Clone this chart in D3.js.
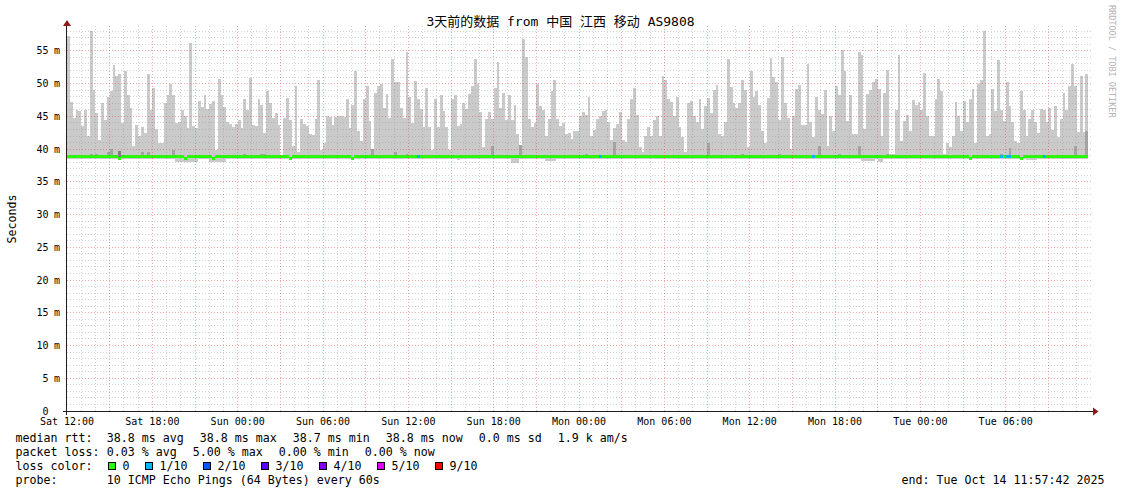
<!DOCTYPE html>
<html><head><meta charset="utf-8">
<script src="https://cdn.jsdelivr.net/npm/d3@7"></script>
<style>
html,body{margin:0;padding:0;background:#fff;}
svg{display:block;}
text{font-family:"DejaVu Sans Mono","Noto Sans CJK SC",monospace;fill:#000;}
</style>
</head><body>
<svg id="c" width="1121" height="494"></svg>
<script>
// ---------------- data ----------------
const title = "3天前的数据 from 中国 江西 移动 AS9808";
const yLabel = "Seconds";
const watermark = "RRDTOOL / TOBI OETIKER";
const yTickValues = [0, 5, 10, 15, 20, 25, 30, 35, 40, 45, 50, 55];
const xTickLabels = ["Sat 12:00","Sat 18:00","Sun 00:00","Sun 06:00","Sun 12:00","Sun 18:00",
                     "Mon 00:00","Mon 06:00","Mon 12:00","Mon 18:00","Tue 00:00","Tue 06:00"];
// top of smoke (max ping, ms) per 12-minute step, from Sat 12:00
const maxSat = [57.3,47.2,44.8,46.0,45.8,43.6,46.0,42.0,58.0,49.1,
45.5,41.4,47.1,44.5,48.0,48.8,52.8,51.1,51.4,44.0,
51.9,48.3,46.3,40.5,43.7,42.0,43.3,42.4,51.4,45.9,
49.4,43.1,41.0,40.9,47.1,48.2,50.0,48.3,44.0,44.2,
46.0,45.1,43.2,56.2,43.6,43.2,47.4,46.5,48.3,46.1,
46.9,47.4,39.8,50.7,48.2,46.5,44.2,43.8,43.4,43.8,
44.5,43.2,47.6,45.9,50.8,43.7,43.5,47.6,46.8,42.5,
48.8,47.0,44.7,45.5,43.7,39.1,44.7,47.8,44.5,40.4,
49.6,39.6,44.6,43.9,43.5,42.3,42.2,44.6,50.5,39.8,
41.0,45.0,44.9,43.7,44.9,45.1,45.0,44.9,47.6,43.2,
46.8,52.0,42.7,41.3,47.6,49.7,44.3,39.4,48.5,49.7,
49.9,46.3,48.4,44.8,53.7,50.3,50.3];
const maxSun = [46.3,44.8,54.8,48.0,44.0,50.4,47.7,46.2,43.4,49.3,
43.4,39.9,47.7,43.4,48.2,45.8,43.4,39.9,47.7,48.3,
43.5,43.9,47.1,46.2,48.4,49.6,53.7,49.9,45.6,40.3,
44.6,45.6,44.6,49.3,53.3,46.3,48.6,44.4,48.2,44.5,
46.8,42.3,40.2,56.8,54.0,44.6,43.4,44.0,50.0,46.6,
46.0,42.0,44.6,48.9,50.5,44.6,43.5,44.0,42.3,42.5,
41.5,42.8,42.7,45.0,45.7,45.2,48.0,42.0,42.9,44.6,
45.1,45.8,45.9,44.1,41.4,43.2,43.9,45.6,41.4,41.1,
44.6,47.7,49.4,45.2,40.3,39.5,42.0,43.4,42.0,44.4,
45.0,42.0,51.2,50.5,47.6,47.2,45.1,48.0,43.4,41.8,
39.5,47.0,47.3,45.1,44.1,47.6,43.0,46.6,47.8,45.5,
49.0,49.8,42.3,42.0,44.2,53.8,49.5,47.0,46.3,47.0];
const maxMon = [50.6,49.0,40.3,51.9,48.0,48.8,46.8,42.7,40.9,47.8,
53.9,51.0,50.2,44.5,54.0,47.0,44.8,40.0,45.1,49.2,
49.8,43.7,43.7,53.0,44.1,41.9,48.0,46.0,45.4,49.1,
40.5,45.0,42.7,49.7,48.3,55.1,51.9,44.3,48.3,42.3,
42.3,54.8,54.4,43.1,48.4,49.0,50.2,50.7,49.2,42.0,
48.5,52.1,39.3,39.3,46.0,54.4,41.3,44.3,45.2,42.8,
47.5,46.8,47.2,46.0,51.6,45.0,42.0,42.0,47.7,50.7,
48.9,39.3,41.0,40.3,42.0,47.2,45.0,42.8,47.4,44.2,
47.7,49.2,41.0,49.9,50.5,58.1,42.0,42.3,49.2,45.8,
53.6,45.9,44.3,50.2,46.6,44.2,41.2,40.9,48.9,46.0,
42.0,44.6,46.0,44.2,42.4,46.1,46.0,44.1,46.3,42.9,
46.6,41.9,44.6,48.5,45.9,49.7,53.0,49.7,42.6,51.1,
42.6,51.4];
const smokeMax = maxSat.concat(maxSun, maxMon);
const smokeFloor = 38.5;          // lowest ping in most steps
// steps whose lowest ping dips further: [fromStep, toStep, ms]
const smokeDips = [[38,45,38.1],[50,55,38.1],[137,137,38.3],[156,158,37.9],[168,171,38.2],
                   [279,283,38.2],[285,286,38.1],[337,340,38.3]];
// second-highest ping where it shows above the median: [step, ms, shade]
const innerSmoke = [[8,39.3,1],[10,39.3,1],[14,39.5,1],[15,40.0,1],[18,39.7,2],[26,39.5,1],[28,39.6,1],
  [37,39.9,1],[62,39.3,1],[68,39.3,1],[69,39.3,1],[107,40.0,1],[115,39.5,1],[119,39.3,1],
  [149,40.4,1],[159,40.6,1],[182,39.3,1],[192,41.1,1],[225,41.0,1],[237,39.2,1],[250,39.2,1],
  [264,40.4,1],[271,39.3,1],[278,40.5,1],[288,39.3,1],[328,39.3,1],[331,40.2,1],[354,40.5,1],[358,42.7,1]];
const medianBase = 38.8;
const medianDips = [[18,38.6],[41,38.6],[51,38.6],[78,38.6],[100,38.6],[317,38.6],[335,38.6]];
const lossSteps = [[123,1],[187,1],[262,1],[328,1],[330,1],[331,1],[343,1]];
const lossLegend = ["0","1/10","2/10","3/10","4/10","5/10","9/10"];
const lossColors = ["#26ff00","#00b8ff","#0059ff","#5e00ff","#7e00ff","#dd00ff","#ff0000"];
const legendRows = [
  ["median rtt:", ["38.8 ms avg","38.8 ms max","38.7 ms min","38.8 ms now","0.0 ms sd","1.9 k am/s"]],
  ["packet loss:", ["0.03 % avg","5.00 % max","0.00 % min","0.00 % now"]],
  ["loss color:", null],
  ["probe:", ["10 ICMP Echo Pings (64 Bytes) every 60s"]]
];
const endText = "end: Tue Oct 14 11:57:42 2025";

// ---------------- chart ----------------
const svg = d3.select("#c");
const start = new Date(2025, 9, 11, 11, 57, 42);
const end = new Date(2025, 9, 14, 11, 57, 42);
const firstStep = new Date(2025, 9, 11, 12, 0, 0);
const stepMs = 12 * 60 * 1000;
const x = d3.scaleTime().domain([start, end]).range([66.5, 1090.5]);
const y = d3.scaleLinear().domain([0, 58.8]).range([411, 26]);

const steps = smokeMax.map((v, i) => {
  const t0 = new Date(+firstStep + i * stepMs), t1 = new Date(+t0 + stepMs);
  let lo = smokeFloor;
  smokeDips.forEach(d => { if (i >= d[0] && i <= d[1]) lo = d[2]; });
  let med = medianBase;
  medianDips.forEach(d => { if (d[0] === i) med = d[1]; });
  let loss = 0;
  lossSteps.forEach(d => { if (d[0] === i) loss = d[1]; });
  return {i, t0, t1, hi: v, lo, med, loss};
});

const plot = svg.append("g").attr("shape-rendering", "crispEdges");
plot.selectAll("rect.smoke").data(steps).join("rect").attr("class", "smoke")
  .attr("x", d => x(d.t0)).attr("width", d => x(d.t1) - x(d.t0))
  .attr("y", d => y(d.hi)).attr("height", d => y(d.lo) - y(d.hi))
  .attr("fill", "#cacaca");
const shades = {1: "#a4a4a4", 2: "#7e7e7e"};
plot.selectAll("rect.inner").data(innerSmoke).join("rect").attr("class", "inner")
  .attr("x", d => x(steps[d[0]].t0)).attr("width", d => x(steps[d[0]].t1) - x(steps[d[0]].t0))
  .attr("y", d => y(d[1])).attr("height", d => y(38.6) - y(d[1]))
  .attr("fill", d => shades[d[2]]);

// grid
const grid = svg.append("g").attr("shape-rendering", "crispEdges");
const snap = v => Math.round(v) + 0.5;
const minorCol = "rgba(140,140,140,0.38)", majorCol = "rgba(222,79,79,0.5)";
d3.range(1, 59).forEach(v => {
  const major = v % 5 === 0;
  grid.append("line").attr("x1", 67).attr("x2", 1093).attr("y1", snap(y(v) - 0.5)).attr("y2", snap(y(v) - 0.5))
    .attr("stroke", major ? majorCol : minorCol)
    .attr("stroke-dasharray", "1,2");
});
const hours = d3.timeHour.range(new Date(2025, 9, 11, 13), end);
hours.forEach(h => {
  const major = h.getHours() % 3 === 0;
  grid.append("line").attr("y1", 26).attr("y2", 413).attr("x1", snap(x(h) - 0.5)).attr("x2", snap(x(h) - 0.5))
    .attr("stroke", major ? majorCol : minorCol)
    .attr("stroke-dasharray", "1,2");
});

// median line coloured by loss
plot.selectAll("rect.med").data(steps).join("rect").attr("class", "med")
  .attr("x", d => x(d.t0)).attr("width", d => x(d.t1) - x(d.t0))
  .attr("y", d => Math.round(y(d.med) - 1.5)).attr("height", 3)
  .attr("fill", d => lossColors[d.loss]);

// axes
const ax = svg.append("g").attr("shape-rendering", "crispEdges");
ax.append("line").attr("x1", 63).attr("x2", 1093).attr("y1", 411.5).attr("y2", 411.5).attr("stroke", "#1f1f1f");
ax.append("line").attr("x1", 66.5).attr("x2", 66.5).attr("y1", 415).attr("y2", 24).attr("stroke", "#2a1a1a");
svg.append("path").attr("d", "M1093,407.5L1098.5,411.5L1093,415.5Z").attr("fill", "#8b1a1a");
svg.append("path").attr("d", "M63,26L67,20L71,26Z").attr("fill", "#8b1a1a");

// y tick labels
const yl = svg.append("g").style("font-size", "10px");
yTickValues.forEach(v => {
  yl.append("text").attr("x", 48.5).attr("y", y(v) + 3.6).attr("text-anchor", "end").text(v);
  if (v !== 0) yl.append("text").attr("x", 54).attr("y", y(v) + 3.6).text("m");
});
// x tick labels
const xl = svg.append("g").style("font-size", "10px");
xTickLabels.forEach((s, k) => {
  const t = new Date(2025, 9, 11, 12 + 6 * k);
  xl.append("text").attr("x", x(t)).attr("y", 425).attr("text-anchor", "middle").text(s);
});

// title, axis label, watermark
svg.append("text").attr("x", 560.5).attr("y", 26).attr("text-anchor", "middle").style("font-size", "13px").text(title);
svg.append("text").attr("transform", "translate(15.5,219) rotate(-90)").attr("text-anchor", "middle")
  .style("font-size", "11.6px").text(yLabel);
svg.append("text").attr("transform", "translate(1108.5,5) rotate(90)").style("font-size", "8.5px")
  .style("fill", "#b2b2b2").text(watermark);

// legend
const cw = 7.0, lg = svg.append("g").style("font-size", "11.63px");
legendRows.forEach((row, r) => {
  const by = 442 + r * 14;
  lg.append("text").attr("x", 15.5).attr("y", by).text(row[0]);
  if (row[1]) {
    let cx = 106.8;
    row[1].forEach(s => {
      lg.append("text").attr("x", cx).attr("y", by).text(s);
      cx += s.length * cw + 16;
    });
  } else {
    let cx = 108;
    lossLegend.forEach((s, k) => {
      lg.append("rect").attr("x", cx + 0.5).attr("y", by - 7.5).attr("width", 7).attr("height", 7)
        .attr("fill", lossColors[k]).attr("stroke", "#000").attr("shape-rendering", "crispEdges");
      lg.append("text").attr("x", cx + 14.5).attr("y", by).text(s);
      cx += 14.5 + s.length * cw + 15.5;
    });
  }
});
lg.append("text").attr("x", 1104.5).attr("y", 484).attr("text-anchor", "end").text(endText);
</script>
</body></html>
